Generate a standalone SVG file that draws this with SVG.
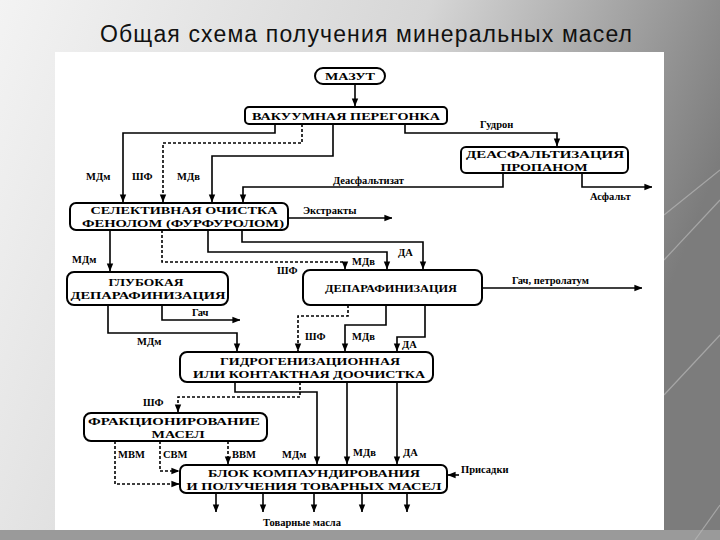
<svg xmlns="http://www.w3.org/2000/svg" width="720" height="540" viewBox="0 0 720 540">
<defs>
<linearGradient id="bg" x1="0" y1="0" x2="1" y2="0.3">
<stop offset="0" stop-color="#f3f3f3"/>
<stop offset="0.55" stop-color="#d6d6d6"/>
<stop offset="1" stop-color="#7c7c7c"/>
</linearGradient>
<marker id="ar" viewBox="0 0 10 10" refX="9.5" refY="5" markerWidth="8" markerHeight="8" markerUnits="userSpaceOnUse" orient="auto">
<path d="M0,1 L10,5 L0,9 Z" fill="#000"/>
</marker>
<style>
.box{fill:#fff;stroke:#000;stroke-width:2}
.bt{font-family:"Liberation Serif","Times New Roman",serif;font-weight:bold;font-size:11px;fill:#000;text-anchor:middle}
.lb{font-family:"Liberation Serif","Times New Roman",serif;font-weight:bold;font-size:10.5px;fill:#000}
.c{fill:none;stroke:#000;stroke-width:1.6;marker-end:url(#ar)}
.d{stroke-dasharray:3,2}
.title{font-family:"Liberation Sans",Arial,sans-serif;font-size:23px;fill:#111;text-anchor:middle}
</style>
</defs>
<rect x="0" y="0" width="720" height="540" fill="url(#bg)"/>
<rect x="0" y="530" width="720" height="10" fill="#9a9a9a"/>
<g stroke="#b8b8b8" stroke-width="1.2" opacity="0.7" fill="none">
<path d="M664 215 L720 170"/><path d="M664 260 L720 200"/><path d="M664 395 L720 335"/><path d="M695 540 L720 505"/>
</g>
<text class="title" x="366" y="42" textLength="532">Общая схема получения минеральных масел</text>
<rect x="55" y="52" width="609" height="478" fill="#fff"/>

<g id="connectors">
<path class="c" d="M355 84 V106"/>
<path class="c" d="M275 124 V133 H123 V202"/>
<path class="c d" d="M302 124 V143 H163 V202"/>
<path class="c" d="M333 124 V156 H212 V202"/>
<path class="c" d="M405 124 V133 H557 V146"/>
<path class="c" d="M503 173 V187 H243 V202"/>
<path class="c" d="M582 173 V187 H652"/>
<path class="c" d="M288 218 H392"/>
<path class="c" d="M110 230 V271"/>
<path class="c d" d="M162 230 V262 H345 V269"/>
<path class="c" d="M208 230 V252 H387 V269"/>
<path class="c" d="M242 230 V242 H423 V269"/>
<path class="c" d="M482 288 H642"/>
<path class="c" d="M162 305 V320 H240"/>
<path class="c" d="M108 305 V333 H237 V351"/>
<path class="c d" d="M348 305 V316 H298 V351"/>
<path class="c" d="M386 305 V325 H345 V351"/>
<path class="c" d="M425 305 V337 H397 V351"/>
<path class="c d" d="M300 382 V397 H178 V412"/>
<path class="c" d="M235 382 V392 H317 V464"/>
<path class="c" d="M347 382 V464"/>
<path class="c" d="M397 382 V464"/>
<path class="c d" d="M115 441 V484 H179"/>
<path class="c d" d="M160 441 V471 H179"/>
<path class="c d" d="M228 441 V464"/>
<path class="c" d="M459 475 H448"/>
<path class="c" d="M216 493 V512"/>
<path class="c" d="M263 493 V512"/>
<path class="c" d="M314 493 V512"/>
<path class="c" d="M362 493 V512"/>
<path class="c" d="M407 493 V512"/>
</g>

<g id="labels">
<text class="lb" x="480" y="128">Гудрон</text>
<text class="lb" x="333" y="184">Деасфальтизат</text>
<text class="lb" x="590" y="200">Асфальт</text>
<text class="lb" x="86" y="180">МДм</text>
<text class="lb" x="132" y="180">ШФ</text>
<text class="lb" x="177" y="180">МДв</text>
<text class="lb" x="303" y="214">Экстракты</text>
<text class="lb" x="72" y="263">МДм</text>
<text class="lb" x="277" y="274">ШФ</text>
<text class="lb" x="352" y="265">МДв</text>
<text class="lb" x="398" y="256">ДА</text>
<text class="lb" x="512" y="284">Гач, петролатум</text>
<text class="lb" x="192" y="316">Гач</text>
<text class="lb" x="137" y="345">МДм</text>
<text class="lb" x="305" y="340">ШФ</text>
<text class="lb" x="352" y="340">МДв</text>
<text class="lb" x="402" y="348">ДА</text>
<text class="lb" x="143" y="406">ШФ</text>
<text class="lb" x="118" y="458">МВМ</text>
<text class="lb" x="163" y="458">СВМ</text>
<text class="lb" x="232" y="458">ВВМ</text>
<text class="lb" x="282" y="458">МДм</text>
<text class="lb" x="353" y="456">МДв</text>
<text class="lb" x="403" y="456">ДА</text>
<text class="lb" x="461" y="473">Присадки</text>
<text class="lb" x="263" y="526">Товарные масла</text>
</g>

<g id="mazut">
<rect class="box" x="315" y="68" width="70" height="16" rx="8"/>
<text class="bt" x="350" y="80" textLength="50" lengthAdjust="spacingAndGlyphs">МАЗУТ</text>
</g>
<g id="vacuum">
<rect class="box" x="245" y="107" width="202" height="17" rx="4"/>
<text class="bt" x="346" y="119.5" textLength="188" lengthAdjust="spacingAndGlyphs">ВАКУУМНАЯ ПЕРЕГОНКА</text>
</g>
<g id="deasph">
<rect class="box" x="461" y="147" width="167" height="26" rx="5"/>
<text class="bt" x="545" y="158" textLength="158" lengthAdjust="spacingAndGlyphs">ДЕАСФАЛЬТИЗАЦИЯ</text>
<text class="bt" x="544" y="170.5" textLength="87" lengthAdjust="spacingAndGlyphs">ПРОПАНОМ</text>
</g>
<g id="selective">
<rect class="box" x="70" y="203" width="218" height="27" rx="6"/>
<text class="bt" x="184" y="214" textLength="187" lengthAdjust="spacingAndGlyphs">СЕЛЕКТИВНАЯ ОЧИСТКА</text>
<text class="bt" x="183" y="226.5" textLength="202" lengthAdjust="spacingAndGlyphs">ФЕНОЛОМ (ФУРФУРОЛОМ)</text>
</g>
<g id="deep-dewax">
<rect class="box" x="67" y="272" width="161" height="33" rx="7"/>
<text class="bt" x="146" y="285.5" textLength="75" lengthAdjust="spacingAndGlyphs">ГЛУБОКАЯ</text>
<text class="bt" x="148" y="299" textLength="155" lengthAdjust="spacingAndGlyphs">ДЕПАРАФИНИЗАЦИЯ</text>
</g>
<g id="dewax">
<rect class="box" x="303" y="270" width="179" height="35" rx="7"/>
<text class="bt" x="391" y="292" textLength="132" lengthAdjust="spacingAndGlyphs">ДЕПАРАФИНИЗАЦИЯ</text>
</g>
<g id="hydro">
<rect class="box" x="180" y="352" width="253" height="30" rx="7"/>
<text class="bt" x="310" y="364.5" textLength="180" lengthAdjust="spacingAndGlyphs">ГИДРОГЕНИЗАЦИОННАЯ</text>
<text class="bt" x="309" y="377.5" textLength="232" lengthAdjust="spacingAndGlyphs">ИЛИ КОНТАКТНАЯ ДООЧИСТКА</text>
</g>
<g id="fraction">
<rect class="box" x="84" y="413" width="183" height="28" rx="7"/>
<text class="bt" x="174" y="424.5" textLength="172" lengthAdjust="spacingAndGlyphs">ФРАКЦИОНИРОВАНИЕ</text>
<text class="bt" x="178" y="437.5" textLength="53" lengthAdjust="spacingAndGlyphs">МАСЕЛ</text>
</g>
<g id="blend">
<rect class="box" x="180" y="465" width="267" height="28" rx="6"/>
<text class="bt" x="314" y="476.5" textLength="212" lengthAdjust="spacingAndGlyphs">БЛОК КОМПАУНДИРОВАНИЯ</text>
<text class="bt" x="314" y="489.5" textLength="255" lengthAdjust="spacingAndGlyphs">И ПОЛУЧЕНИЯ ТОВАРНЫХ МАСЕЛ</text>
</g>
</svg>
